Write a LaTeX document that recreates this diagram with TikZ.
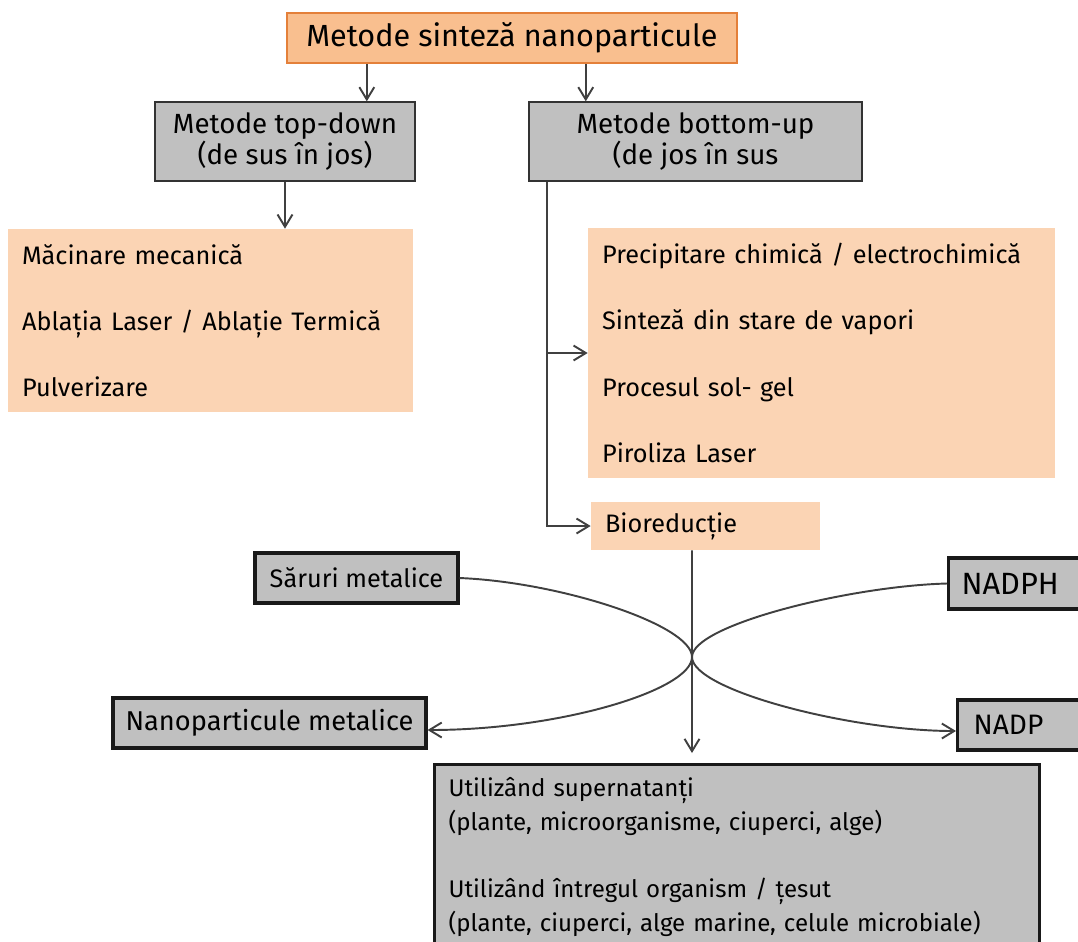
\documentclass[tikz,border=0pt]{standalone}
\usepackage{fontspec}
\setmainfont{Fira Sans}
\usetikzlibrary{arrows.meta, positioning, calc}

\definecolor{titlefill}{RGB}{249,191,143}
\definecolor{titleedge}{RGB}{228,128,58}
\definecolor{peach}{RGB}{251,212,180}
\definecolor{boxgray}{RGB}{192,192,192}
\definecolor{linegray}{RGB}{64,64,64}

\begin{document}
\begin{tikzpicture}[
    x=0.02cm, y=-0.02cm,
    font=\fontsize{14.4}{17}\selectfont,
    title/.style={rectangle, draw=titleedge, line width=1.4pt, fill=titlefill,
                  minimum width=9.0cm, minimum height=1.0cm,
                  font=\fontsize{17.4}{20}\selectfont},
    head/.style={rectangle, draw=black!80, line width=0.8pt, fill=boxgray,
                 minimum width=#1, minimum height=1.58cm, align=center,
                 font=\fontsize{15.8}{18.1}\selectfont},
    list/.style={rectangle, fill=peach, inner xsep=0.28cm, align=left,
                 text width=#1, font=\fontsize{14.4}{37.7}\selectfont},
    heavy/.style={rectangle, draw=black!90, line width=1.8pt, fill=boxgray,
                  minimum height=1.0cm},
    arr/.style={-{Straight Barb[length=7pt, width=8.5pt]}, line width=1.1pt, draw=linegray},
    flow/.style={line width=1.1pt, draw=linegray}
  ]

  \clip (0,0) rectangle (1078,941);

  % headings
  \node[title] (title) at (512,38) {Metode sinteză nanoparticule};
  \node[head=5.2cm]  (td) at (285,141.5) {Metode top-down\\(de sus în jos)};
  \node[head=6.66cm] (bu) at (695.5,141.5) {Metode bottom-up\\(de jos în sus};

  % method lists
  \node[list=7.54cm, minimum height=3.66cm] (ll) at (210.5,320.5)
    {Măcinare mecanică\\Ablația Laser / Ablație Termică\\Pulverizare};
  \node[list=8.78cm, minimum height=5.0cm] (rl) at (821.5,353)
    {Precipitare chimică / electrochimică\\Sinteză din stare de vapori\\Procesul sol- gel\\Piroliza Laser};
  \node[list=4.02cm, minimum height=0.96cm, font=\fontsize{14.4}{17}\selectfont] (bio) at (705.5,526)
    {Bioreducție};

  % bioreduction
  \node[heavy, minimum width=4.06cm] (sar) at (356.5,578) {Săruri metalice};
  \node[heavy, minimum width=6.26cm, font=\fontsize{15.5}{18}\selectfont] (nano) at (269.5,723)
    {Nanoparticule metalice};
  \node[heavy, anchor=west, minimum height=1.02cm, inner xsep=0.26cm, text width=2.9cm,
        align=left, font=\fontsize{17.5}{20}\selectfont] (nadph) at (947,583.5) {NADPH};
  \node[heavy, anchor=west, inner xsep=0.32cm, text width=2.6cm,
        align=left, font=\fontsize{16}{19}\selectfont] (nadp) at (956,725) {NADP};
  \node[heavy, anchor=north west, minimum height=3.7cm, inner xsep=0.28cm,
        text width=11.54cm, align=left, font=\fontsize{13.7}{19.3}\selectfont] (big) at (433,763)
    {Utilizând supernatanți\\(plante, microorganisme, ciuperci, alge)\\[19.3pt]
     Utilizând întregul organism / țesut\\(plante, ciuperci, alge marine, celule microbiale)};

  % connectors
  \coordinate (tdin) at ([xshift=1.62cm]title.south west);
  \coordinate (buin) at ([xshift=6.0cm]title.south west);
  \coordinate (bustem) at ([xshift=0.38cm]bu.south west);
  \coordinate (cross) at (692,657);

  \draw[arr] (tdin) -- (tdin |- td.north);
  \draw[arr] (buin) -- (buin |- bu.north);
  \draw[arr] (td.south) -- (td.south |- ll.north);
  \draw[arr] (bustem) |- (rl.west);
  \draw[arr] (bustem) |- (bio.west);
  \draw[arr, shorten >=0.2cm] ([xshift=-0.27cm]bio.south) -- (cross) -- (cross |- big.north);

  \draw[flow] (sar.east) .. controls (560,582) and (692,625) .. (cross);
  \draw[arr] (cross) .. controls (692,690) and (560,730) .. ([yshift=-0.14cm]nano.east);
  \draw[flow] (nadph.west) .. controls (850,586) and (692,625) .. (cross);
  \draw[arr] (cross) .. controls (692,690) and (850,731) .. ([yshift=-0.12cm]nadp.west);

\end{tikzpicture}
\end{document}
